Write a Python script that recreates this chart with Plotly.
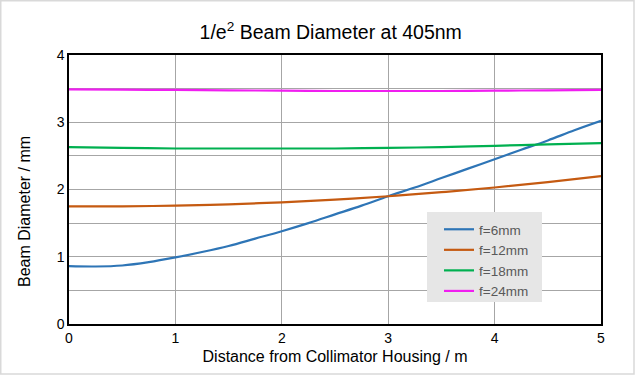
import plotly.graph_objects as go

x_blue = [0, 0.25, 0.5, 0.75, 1, 1.25, 1.5, 1.75, 2, 2.25, 2.5, 2.75, 3, 3.25, 3.5, 3.75, 4, 4.25, 4.5, 4.75, 5]
f6 = [0.86, 0.855, 0.87, 0.92, 0.99, 1.07, 1.16, 1.27, 1.38, 1.50, 1.63, 1.76, 1.90, 2.03, 2.17, 2.31, 2.45, 2.59, 2.73, 2.88, 3.02]
x_other = [0, 0.5, 1, 1.5, 2, 2.5, 3, 3.5, 4, 4.5, 5]
f12 = [1.75, 1.75, 1.76, 1.78, 1.81, 1.85, 1.90, 1.96, 2.03, 2.11, 2.20]
f18 = [2.63, 2.62, 2.61, 2.61, 2.61, 2.61, 2.62, 2.63, 2.65, 2.67, 2.69]
f24 = [3.49, 3.485, 3.48, 3.475, 3.47, 3.465, 3.465, 3.465, 3.47, 3.475, 3.48]
names = ["f=6mm", "f=12mm", "f=18mm", "f=24mm"]
colors = ["#2E75B6", "#C55A11", "#00B050", "#F01EF0"]

fig = go.Figure()
for xs, ys, n, c in [(x_blue, f6, names[0], colors[0]), (x_other, f12, names[1], colors[1]),
                     (x_other, f18, names[2], colors[2]), (x_other, f24, names[3], colors[3])]:
    fig.add_trace(go.Scatter(x=xs, y=ys, mode="lines", name=n,
                             line=dict(color=c, width=2.2, shape="spline")))

W, H = 636, 376
L, R, T, B = 69, 35, 55, 52
pw, ph = W - L - R, H - T - B

def px_x(p):
    return (p - L) / pw

def px_y(p):
    return (T + ph - p) / ph

fig.update_layout(
    width=W, height=H,
    margin=dict(l=L, r=R, t=T, b=B),
    paper_bgcolor="white", plot_bgcolor="white",
    font=dict(family="Liberation Sans, Arial, sans-serif", color="black"),
    title=dict(text="1/e<sup>2</sup> Beam Diameter at 405nm", x=0.52, xanchor="center",
               y=1 - 32 / H, yanchor="middle", font=dict(size=19.5, color="black")),
    xaxis=dict(range=[0, 5], dtick=1, tick0=0, showgrid=True, gridcolor="#A6A6A6", gridwidth=1,
               showline=True, linecolor="black", linewidth=1.5, mirror=True, zeroline=False,
               ticks="", tickfont=dict(size=14),
               title=dict(text="Distance from Collimator Housing / m", font=dict(size=16), standoff=6)),
    yaxis=dict(range=[0, 4], dtick=1, tick0=0, showgrid=True, gridcolor="#A6A6A6", gridwidth=1,
               minor=dict(dtick=0.5, showgrid=True, gridcolor="#A6A6A6", gridwidth=1),
               showline=True, linecolor="black", linewidth=1.5, mirror=True, zeroline=False,
               ticks="", tickfont=dict(size=14)),
    legend=dict(x=px_x(439), y=px_y(214), xanchor="left", yanchor="top",
                bgcolor="rgba(0,0,0,0)", font=dict(size=13.5, color="#595959"),
                borderwidth=0, itemwidth=30, tracegroupgap=0),
    showlegend=True,
)

# y-axis title (placed as in the reference, slightly below centre)
fig.add_annotation(text="Beam Diameter / mm", textangle=-90, showarrow=False,
                   xref="paper", yref="paper", x=px_x(24), y=px_y(212),
                   xanchor="center", yanchor="middle", font=dict(size=16, color="black"))

# legend background box
fig.add_shape(type="rect", xref="paper", yref="paper",
              x0=px_x(427), x1=px_x(542), y0=px_y(302), y1=px_y(212),
              line=dict(width=0), fillcolor="#E6E6E6", layer="above")

# outer frame
fig.add_shape(type="rect", xref="paper", yref="paper",
              x0=(0.75 - L) / pw, x1=(W - 2 - L) / pw,
              y0=(T + ph - (H - 2)) / ph, y1=(T + ph - 0.75) / ph,
              line=dict(color="#D9D9D9", width=1.5), layer="below")

fig.write_html("out.html", config={"displayModeBar": False},
               post_script="document.body.style.margin='0';")
